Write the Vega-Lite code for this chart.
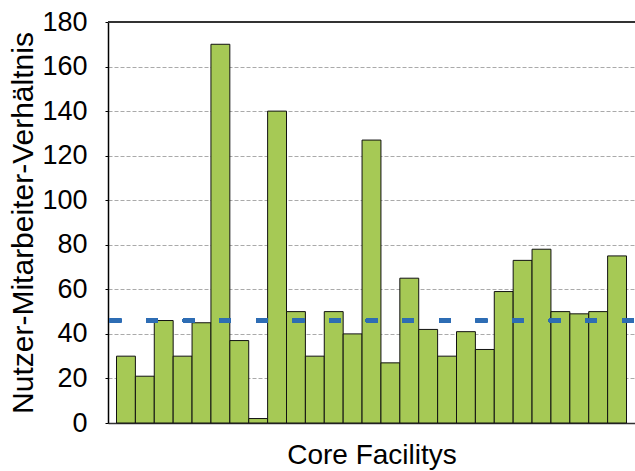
{
  "$schema": "https://vega.github.io/schema/vega-lite/v6.json",
  "autosize": "none",
  "width": 527,
  "height": 401,
  "padding": {"left": 108, "top": 22, "right": 0, "bottom": 48},
  "background": "white",
  "config": {
    "view": {"stroke": null},
    "font": "Liberation Sans"
  },
  "data": {
    "values": [
      {"facility": "1", "ratio": 30},
      {"facility": "2", "ratio": 21},
      {"facility": "3", "ratio": 46},
      {"facility": "4", "ratio": 30},
      {"facility": "5", "ratio": 45},
      {"facility": "6", "ratio": 170},
      {"facility": "7", "ratio": 37},
      {"facility": "8", "ratio": 2},
      {"facility": "9", "ratio": 140},
      {"facility": "10", "ratio": 50},
      {"facility": "11", "ratio": 30},
      {"facility": "12", "ratio": 50},
      {"facility": "13", "ratio": 40},
      {"facility": "14", "ratio": 127},
      {"facility": "15", "ratio": 27},
      {"facility": "16", "ratio": 65},
      {"facility": "17", "ratio": 42},
      {"facility": "18", "ratio": 30},
      {"facility": "19", "ratio": 41},
      {"facility": "20", "ratio": 33},
      {"facility": "21", "ratio": 59},
      {"facility": "22", "ratio": 73},
      {"facility": "23", "ratio": 78},
      {"facility": "24", "ratio": 50},
      {"facility": "25", "ratio": 49},
      {"facility": "26", "ratio": 50},
      {"facility": "27", "ratio": 75}
    ]
  },
  "layer": [
    {
      "mark": {"type": "bar", "fill": "#a6c955", "stroke": "#111111", "strokeWidth": 1},
      "encoding": {
        "x": {
          "field": "facility", "type": "nominal", "sort": null,
          "scale": {"paddingInner": 0, "paddingOuter": 0.45},
          "axis": {
            "labels": false, "ticks": false, "domain": true, "domainColor": "#333333", "domainWidth": 1.5,
            "title": "Core Facilitys", "titleFontSize": 28, "titleFontWeight": "normal",
            "titleColor": "#000000", "titlePadding": 18
          }
        },
        "y": {
          "field": "ratio", "type": "quantitative",
          "scale": {"domain": [0, 180], "nice": false},
          "axis": {
            "values": [0, 20, 40, 60, 80, 100, 120, 140, 160, 180],
            "grid": true, "gridColor": "#aaaaaa", "gridDash": [4, 2], "gridWidth": 1,
            "domainColor": "#000000", "domainWidth": 1.5,
            "tickSize": 3, "tickColor": "#000000",
            "labelFontSize": 27, "labelColor": "#000000", "labelPadding": 18,
            "title": "Nutzer-Mitarbeiter-Verhältnis", "titleFontSize": 30,
            "titleFontWeight": "normal", "titleColor": "#000000", "titlePadding": 3
          }
        }
      }
    },
    {
      "mark": {"type": "rule", "color": "#333333", "strokeWidth": 1.5},
      "encoding": {"y": {"datum": 180, "type": "quantitative"}}
    },
    {
      "mark": {"type": "rule", "color": "#2e6db4", "strokeWidth": 3.5, "strokeDash": [11.5, 25.1], "strokeDashOffset": -1.4},
      "encoding": {"y": {"datum": 46, "type": "quantitative"}}
    }
  ]
}
